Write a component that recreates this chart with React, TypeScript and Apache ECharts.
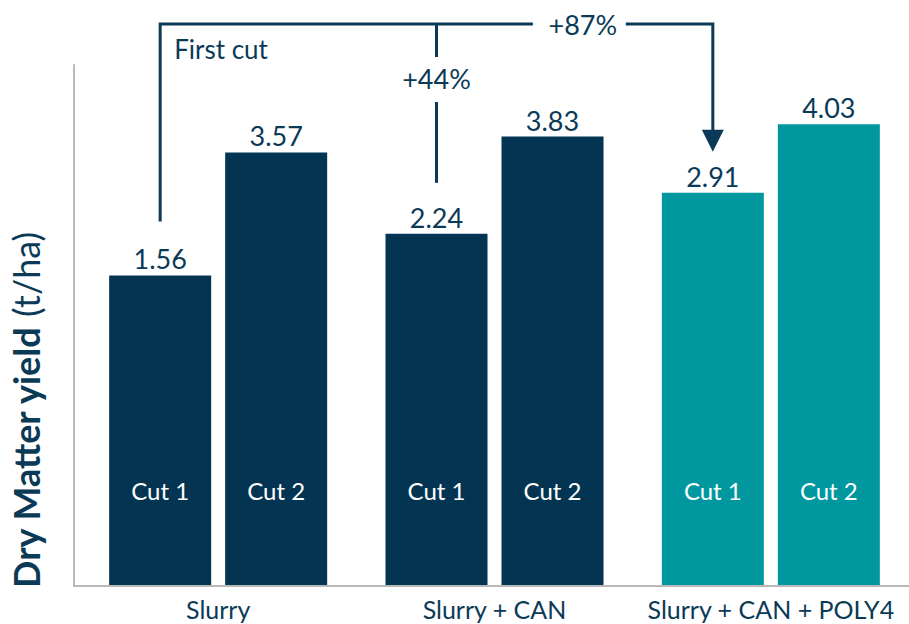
import React, { useEffect, useRef } from "react";
import * as echarts from "echarts";

const CATEGORIES = ["Slurry", "Slurry + CAN", "Slurry + CAN + POLY4"];
const CUT1 = [1.56, 2.24, 2.91];
const CUT2 = [3.57, 3.83, 4.03];
const CUT_NAMES = ["Cut 1", "Cut 2"];
const GAIN_CAN = "+44%";
const GAIN_POLY4 = "+87%";
const FIRST_CUT = "First cut";
const Y_MIN = -3.5;
const Y_MAX = 5;

const NAVY = "#033553";
const TEAL = "#00979f";
const TEXT = "#0b3a57";
const AXIS = "#b9b9b9";
const BAR_COLORS = [NAVY, NAVY, TEAL];
const FONT = "Lato";
const BAR_W = 102;
const GAP = 14;
const CUT_LABEL_Y = -1.95;
const TOP_Y = 24;

export default function App() {
  const ref = useRef<HTMLDivElement>(null);
  useEffect(() => {
    document.body.style.margin = "0";
    const chart = echarts.init(ref.current!, null, { renderer: "svg" });
    const makeSeries = (vals: number[], k: number) => ({
      type: "bar",
      name: CUT_NAMES[k],
      xAxisIndex: 0,
      yAxisIndex: 0,
      barWidth: BAR_W,
      barGap: `${(GAP / BAR_W) * 100}%`,
      data: vals.map((v, i) => ({ value: v, itemStyle: { color: BAR_COLORS[i] } })),
      label: {
        show: true,
        position: "top",
        distance: 3,
        color: TEXT,
        fontSize: 27,
        fontFamily: FONT,
      },
      markPoint: {
        silent: true,
        symbol: "circle",
        symbolSize: 0,
        label: {
          show: true,
          position: "inside",
          formatter: CUT_NAMES[k],
          color: "#ffffff",
          fontSize: 24,
          fontFamily: FONT,
        },
        data: CATEGORIES.map((c) => ({ coord: [c, CUT_LABEL_Y] })),
      },
    });
    chart.setOption({
      animation: false,
      grid: [
        { left: 80, top: 65, width: 833, height: 520 },
        { left: 70, right: 0, top: 65, height: 521 },
      ],
      xAxis: [
        {
          type: "category",
          gridIndex: 0,
          data: CATEGORIES,
          axisLine: { show: false },
          axisTick: { show: false },
          axisLabel: { interval: 0, color: TEXT, fontSize: 25, fontFamily: FONT, margin: 11 },
        },
        {
          type: "category",
          gridIndex: 1,
          data: [""],
          axisLine: { show: true, lineStyle: { color: AXIS, width: 2 } },
          axisTick: { show: false },
          axisLabel: { show: false },
        },
      ],
      yAxis: [
        {
          type: "value",
          gridIndex: 0,
          min: Y_MIN,
          max: Y_MAX,
          startValue: Y_MIN,
          show: false,
          splitLine: { show: false },
        },
        {
          type: "value",
          gridIndex: 1,
          min: 0,
          max: 1,
          axisLine: { show: true, lineStyle: { color: AXIS, width: 2 } },
          axisTick: { show: false },
          axisLabel: { show: false },
          splitLine: { show: false },
          name: "{b|Dry Matter yield} {r|(t/ha)}",
          nameLocation: "middle",
          nameRotate: 90,
          nameGap: 30,
          nameTextStyle: {
            color: TEXT,
            fontFamily: FONT,
            fontSize: 36,
            padding: [0, 170, 0, 0],
            rich: {
              b: { fontWeight: "bold", fontSize: 36, fontFamily: FONT, color: TEXT },
              r: { fontSize: 36, fontFamily: FONT, color: TEXT },
            },
          },
        },
      ],
      series: [makeSeries(CUT1, 0), makeSeries(CUT2, 1)],
    });

    const off = (BAR_W + GAP) / 2;
    const pt = (cat: number, v: number) =>
      chart.convertToPixel({ gridIndex: 0 } as any, [cat, v]) as number[];
    const [x1c, y1] = pt(0, CUT1[0]);
    const [x2c, y2] = pt(1, CUT1[1]);
    const [x3c, y3] = pt(2, CUT1[2]);
    const x1 = x1c - off;
    const x2 = x2c - off;
    const x3 = x3c - off;
    const end1 = y1 - 54;
    const end2 = y2 - 51;
    const tip = y3 - 41;
    const arrowH = 22;
    const label87X = x3 - 130;
    const lineStyle = { stroke: TEXT, lineWidth: 3, fill: null };
    chart.setOption({
      graphic: [
        {
          type: "polyline",
          shape: { points: [[x1, end1], [x1, TOP_Y], [label87X - 50, TOP_Y]] },
          style: lineStyle,
        },
        {
          type: "polyline",
          shape: { points: [[label87X + 43, TOP_Y], [x3, TOP_Y], [x3, tip - arrowH + 1]] },
          style: lineStyle,
        },
        {
          type: "polygon",
          shape: { points: [[x3 - 11, tip - arrowH], [x3 + 11, tip - arrowH], [x3, tip]] },
          style: { fill: TEXT },
        },
        {
          type: "line",
          shape: { x1: x2, y1: TOP_Y, x2: x2, y2: 57 },
          style: lineStyle,
        },
        {
          type: "line",
          shape: { x1: x2, y1: 102, x2: x2, y2: end2 },
          style: lineStyle,
        },
        {
          type: "text",
          style: {
            text: GAIN_POLY4,
            x: label87X,
            y: TOP_Y,
            fill: TEXT,
            fontSize: 27,
            fontFamily: FONT,
            align: "center",
            verticalAlign: "middle",
          },
        },
        {
          type: "text",
          style: {
            text: GAIN_CAN,
            x: x2,
            y: 78,
            fill: TEXT,
            fontSize: 27,
            fontFamily: FONT,
            align: "center",
            verticalAlign: "middle",
          },
        },
        {
          type: "text",
          style: {
            text: FIRST_CUT,
            x: x1 + 14,
            y: 49,
            fill: TEXT,
            fontSize: 26,
            fontFamily: FONT,
            align: "left",
            verticalAlign: "middle",
          },
        },
      ],
    });
    return () => chart.dispose();
  }, []);
  return <div ref={ref} style={{ width: 909, height: 624 }} />;
}
